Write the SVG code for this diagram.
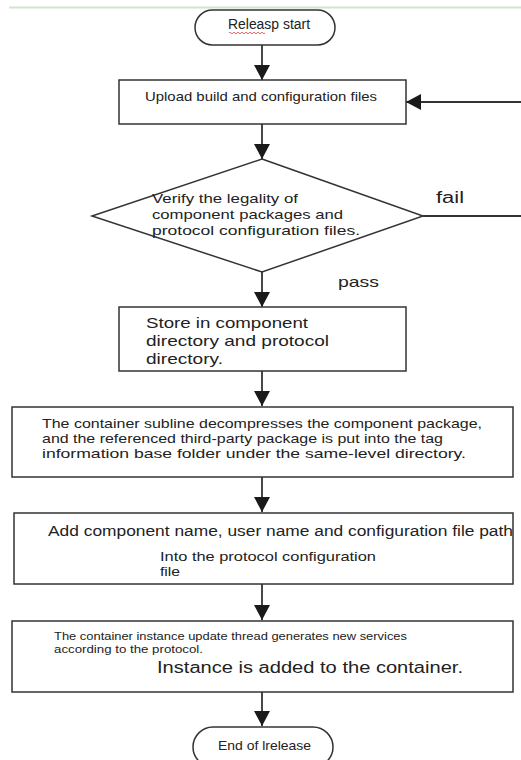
<svg xmlns="http://www.w3.org/2000/svg" width="521" height="760" viewBox="0 0 521 760">
<defs>
<marker id="ah" markerWidth="16" markerHeight="16" refX="15" refY="8" orient="auto" markerUnits="userSpaceOnUse">
<path d="M0,0 L15,8 L0,16 Z" fill="#1a1a1a"/>
</marker>
<style>
.box{fill:#fff;stroke:#333;stroke-width:1.5}
.ln{fill:none;stroke:#333;stroke-width:1.8}
.t{font-family:"Liberation Sans","Open Sans",sans-serif;fill:#222}
</style>
</defs>
<rect width="521" height="760" fill="#fff"/>
<line x1="9" y1="7.5" x2="521" y2="7.5" stroke="#cde8c9" stroke-width="2"/>
<g id="connectors">
<line class="ln" x1="262" y1="45" x2="262" y2="80" marker-end="url(#ah)"/>
<line class="ln" x1="262" y1="124" x2="262" y2="159" marker-end="url(#ah)"/>
<line class="ln" x1="521" y1="102" x2="406" y2="102" marker-end="url(#ah)"/>
<line class="ln" x1="423" y1="216" x2="521" y2="216"/>
<line class="ln" x1="262" y1="272" x2="262" y2="307" marker-end="url(#ah)"/>
<line class="ln" x1="262" y1="371" x2="262" y2="406" marker-end="url(#ah)"/>
<line class="ln" x1="262" y1="477" x2="262" y2="512" marker-end="url(#ah)"/>
<line class="ln" x1="262" y1="584" x2="262" y2="620" marker-end="url(#ah)"/>
<line class="ln" x1="262" y1="692" x2="262" y2="726" marker-end="url(#ah)"/>
<text class="t" x="436" y="203" font-size="16" textLength="28" lengthAdjust="spacingAndGlyphs">fail</text>
<text class="t" x="338" y="287" font-size="15" textLength="41" lengthAdjust="spacingAndGlyphs">pass</text>
</g>
<g id="start">
<rect class="box" x="195" y="10" width="140" height="35" rx="17.5"/>
<text class="t" x="228" y="29" font-size="14" textLength="82" lengthAdjust="spacingAndGlyphs">Releasp start</text>
<path d="M229,33 q1,-1.5 2,0 t2,0 t2,0 t2,0 t2,0 t2,0 t2,0 t2,0 t2,0 t2,0 t2,0 t2,0 t2,0 t2,0 t2,0 t2,0 t2,0 t2,0" fill="none" stroke="#e04040" stroke-width="0.8"/>
</g>
<g id="upload">
<rect class="box" x="119" y="80" width="287" height="44"/>
<text class="t" x="145" y="101" font-size="13" textLength="232" lengthAdjust="spacingAndGlyphs">Upload build and configuration files</text>
</g>
<g id="verify">
<polygon class="box" points="262,159 423,216 262,272 92,216"/>
<text class="t" x="152" y="203" font-size="13.5" textLength="146" lengthAdjust="spacingAndGlyphs">Verify the legality of</text>
<text class="t" x="152" y="219" font-size="13.5" textLength="191" lengthAdjust="spacingAndGlyphs">component packages and</text>
<text class="t" x="152" y="235" font-size="13.5" textLength="208" lengthAdjust="spacingAndGlyphs">protocol configuration files.</text>
</g>
<g id="store">
<rect class="box" x="119" y="307" width="287" height="64"/>
<text class="t" x="146" y="328" font-size="15" textLength="162" lengthAdjust="spacingAndGlyphs">Store in component</text>
<text class="t" x="146" y="346" font-size="15" textLength="183" lengthAdjust="spacingAndGlyphs">directory and protocol</text>
<text class="t" x="146" y="364" font-size="15" textLength="77" lengthAdjust="spacingAndGlyphs">directory.</text>
</g>
<g id="decompress">
<rect class="box" x="12" y="407" width="501" height="70"/>
<text class="t" x="42" y="428" font-size="12.8" textLength="440" lengthAdjust="spacingAndGlyphs">The container subline decompresses the component package,</text>
<text class="t" x="42" y="443" font-size="12.8" textLength="401" lengthAdjust="spacingAndGlyphs">and the referenced third-party package is put into the tag</text>
<text class="t" x="42" y="458" font-size="12.8" textLength="424" lengthAdjust="spacingAndGlyphs">information base folder under the same-level directory.</text>
</g>
<g id="addname">
<rect class="box" x="14" y="513" width="499" height="71"/>
<text class="t" x="48" y="536" font-size="14" textLength="465" lengthAdjust="spacingAndGlyphs">Add component name, user name and configuration file path</text>
<text class="t" x="160" y="561" font-size="12.8" textLength="216" lengthAdjust="spacingAndGlyphs">Into the protocol configuration</text>
<text class="t" x="160" y="576" font-size="12.8" textLength="20" lengthAdjust="spacingAndGlyphs">file</text>
</g>
<g id="update">
<rect class="box" x="12" y="621" width="501" height="71"/>
<text class="t" x="54" y="640" font-size="11" textLength="353" lengthAdjust="spacingAndGlyphs">The container instance update thread generates new services</text>
<text class="t" x="54" y="653" font-size="11" textLength="149" lengthAdjust="spacingAndGlyphs">according to the protocol.</text>
<text class="t" x="157" y="673" font-size="16" textLength="306" lengthAdjust="spacingAndGlyphs">Instance is added to the container.</text>
</g>
<g id="end">
<rect class="box" x="193" y="727" width="140" height="40" rx="20"/>
<text class="t" x="218" y="750" font-size="13" textLength="93" lengthAdjust="spacingAndGlyphs">End of lrelease</text>
</g>
</svg>
